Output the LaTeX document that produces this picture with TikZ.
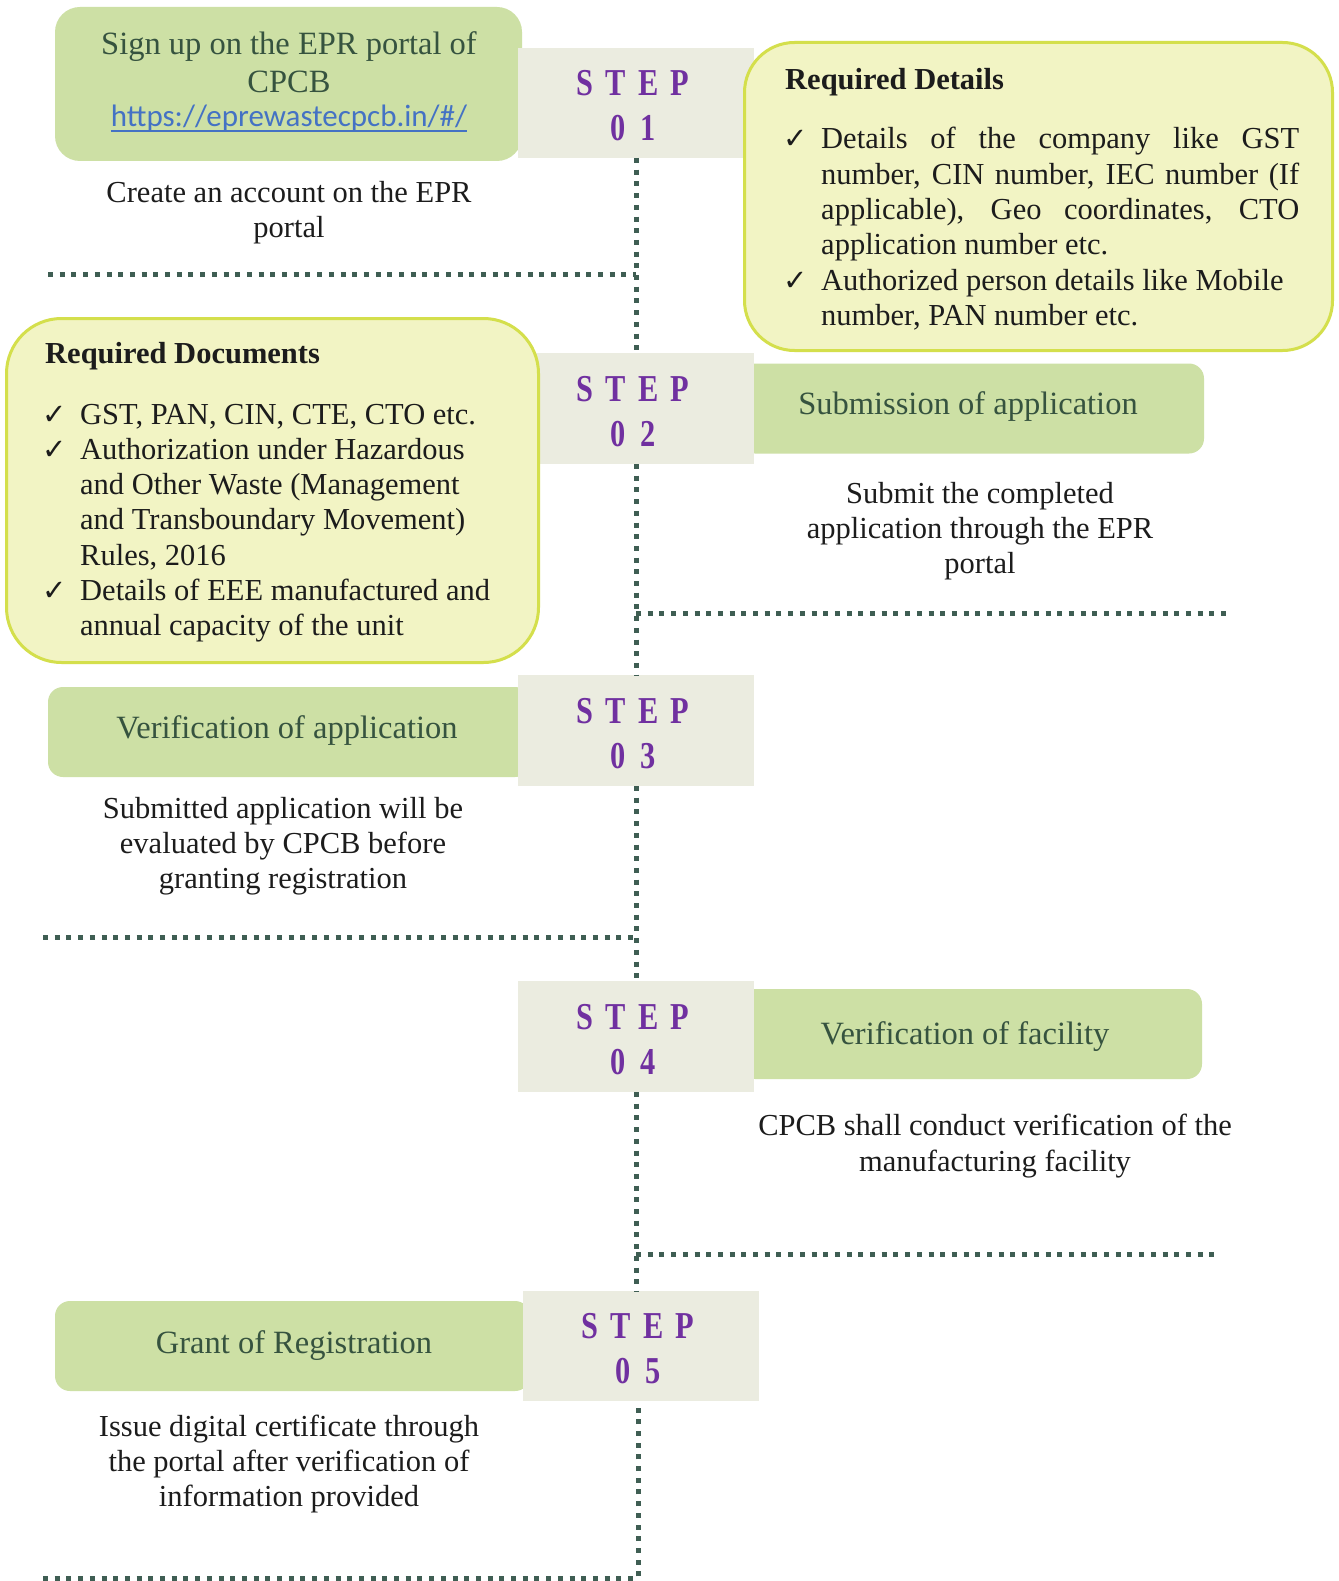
\documentclass[tikz,border=0pt]{standalone}
\usepackage{graphicx}
\usepackage{fontspec}
\setmainfont{Liberation Serif}
\newfontfamily\urlfont{Carlito}
\newfontfamily\symfont{DejaVu Sans}
\usetikzlibrary{calc}
\definecolor{stepgray}{HTML}{EBECE0}
\definecolor{boxgreen}{HTML}{CDE0A5}
\definecolor{notefill}{HTML}{F2F4C4}
\definecolor{noteborder}{HTML}{D4DF4C}
\definecolor{dotcol}{HTML}{3F5E53}
\definecolor{headcol}{HTML}{36533F}
\definecolor{stepcol}{HTML}{7030A0}
\definecolor{urlcol}{HTML}{4472C4}
\definecolor{bodycol}{HTML}{1C1C1C}
\newcommand\chk{\leavevmode\llap{{\symfont\fontsize{29}{29}\selectfont ✓}\hspace{13pt}}}
\newcommand\steplabel[2]{\scalebox{0.8}[1]{\begin{tabular}{@{}c@{}}S\hspace{15pt}T\hspace{15pt}E\hspace{15pt}P\\#1\hspace{18pt}#2\end{tabular}}}
\begin{document}
\begin{tikzpicture}[x=1pt,y=-1pt,
 stepbox/.style={fill=stepgray, draw=none, minimum width=236pt, minimum height=110pt, inner sep=0pt, outer sep=0pt},
 greenbox/.style={fill=boxgreen, draw=none, rounded corners=15pt, minimum height=90pt, inner sep=0pt, outer sep=0pt},
 notebox/.style={fill=notefill, draw=noteborder, line width=3pt, rounded corners=50pt, inner sep=0pt, outer sep=0pt},
 steptext/.style={text=stepcol, font=\fontsize{38}{45}\selectfont\bfseries, inner sep=0pt},
 headtext/.style={text=headcol, font=\fontsize{32.5}{38}\selectfont, inner sep=0pt, align=center},
 bodytext/.style={text=bodycol, font=\fontsize{30.5}{35.3}\selectfont, inner sep=0pt, align=center},
 titletext/.style={text=bodycol, font=\fontsize{30.5}{35.3}\selectfont\bfseries, inner sep=0pt, anchor=base west},
 listtext/.style={text=bodycol, inner sep=0pt, anchor=base west},
 dotline/.style={dotcol, line width=5pt, dash pattern=on 5pt off 6.7pt}]
\useasboundingbox (0,0) rectangle (1338,1581);
\fill[white] (0,0) rectangle (1338,1581);

% green title boxes
\node[greenbox, rounded corners=25pt, minimum width=467pt, minimum height=154pt] (g1) at (288.5,84) {};
\node[greenbox, minimum width=464pt] (g2) at (972,408.5) {};
\node[greenbox, minimum width=482pt] (g3) at (289,732) {};
\node[greenbox, minimum width=462pt] (g4) at (971,1034) {};
\node[greenbox, minimum width=475pt] (g5) at (292.5,1346) {};

% step boxes
\node[stepbox] (s1) at (636,103) {};
\node[stepbox, minimum height=111pt] (s2) at (636,408.5) {};
\node[stepbox, minimum height=111pt] (s3) at (636,730.5) {};
\node[stepbox, minimum height=111pt] (s4) at (636,1036.5) {};
\node[stepbox] (s5) at (641,1346) {};

\node[steptext] (n1) at ($(s1.center)+(-3,6)$) {\steplabel{0}{1}};
\node[steptext] (n2) at ($(s2.center)+(-3,6)$) {\steplabel{0}{2}};
\node[steptext] (n3) at ($(s3.center)+(-3,6)$) {\steplabel{0}{3}};
\node[steptext] (n4) at ($(s4.center)+(-3,6)$) {\steplabel{0}{4}};
\node[steptext] (n5) at ($(s5.center)+(-3,6)$) {\steplabel{0}{5}};

% note boxes
\node[notebox, minimum width=588pt, minimum height=308pt] (y1) at (1038.5,196.5) {};
\node[notebox, rounded corners=55pt, minimum width=532pt, minimum height=344pt] (y2) at (272.5,490.5) {};

% dotted connectors
\draw[dotline] (s1.south) -- (s2.north);
\draw[dotline] (s2.south) -- (s3.north);
\draw[dotline] (s3.south) -- (s4.north);
\draw[dotline] (s4.south) -- (s4.south |- s5.north);
\coordinate (h1a) at (48,274);
\draw[dotline] (h1a) -- (h1a -| s1.south);
\coordinate (h2b) at (1228,613);
\draw[dotline] (h2b -| s2.south) -- (h2b);
\coordinate (h3a) at (43,937);
\draw[dotline] (h3a) -- (h3a -| s3.south);
\coordinate (h4b) at (1218,1254);
\draw[dotline] (h4b -| s4.south) -- (h4b);
\coordinate (h5a) at (43,1578);
\coordinate (h5b) at (638,1578);
\draw[dotline] (h5a) -- (h5b) -- (h5b |- s5.south);

% texts
\node[headtext] (t1) at (289,62) {Sign up on the EPR portal of\\CPCB};
\node[inner sep=0pt, text=urlcol, font=\urlfont\fontsize{31}{31}\selectfont] (url) at (289,118) {https://eprewastecpcb.in/\#/};
\draw[urlcol, line width=1.8pt] ($(url.base west)+(0,5)$) -- ($(url.base east)+(0,5)$);
\node[bodytext] (c1) at (289,213) {Create an account on the EPR\\portal};

\node[titletext] (rdt) at (785,90) {Required Details};
\node[listtext] (rdl) at (821,149) {\parbox[t]{478pt}{\fontsize{30.5}{35.3}\selectfont
\chk\makebox[478pt][s]{Details of the company like GST}\\
\makebox[478pt][s]{number, CIN number, IEC number (If}\\
\makebox[478pt][s]{applicable), Geo coordinates, CTO}\\
application number etc.\\
\chk Authorized person details like Mobile\\
number, PAN number etc.}};

\node[titletext] (rdd) at (45,363) {Required Documents};
\node[listtext] (rdl2) at (80,424) {\parbox[t]{480pt}{\fontsize{30.5}{35.3}\selectfont
\chk GST, PAN, CIN, CTE, CTO etc.\\
\chk Authorization under Hazardous\\
and Other Waste (Management\\
and Transboundary Movement)\\
Rules, 2016\\
\chk Details of EEE manufactured and\\
annual capacity of the unit}};

\node[headtext] (h2) at (968,407) {Submission of application};
\node[bodytext] (c2) at (980,531) {Submit the completed\\application through the EPR\\portal};

\node[headtext] (h3) at (287,731) {Verification of application};
\node[bodytext] (c3) at (283,846) {Submitted application will be\\evaluated by CPCB before\\granting registration};

\node[headtext] (h4) at (965,1037) {Verification of facility};
\node[bodytext] (c4) at (995,1146) {CPCB shall conduct verification of the\\manufacturing facility};

\node[headtext] (h5) at (294,1346) {Grant of Registration};
\node[bodytext] (c5) at (289,1464) {Issue digital certificate through\\the portal after verification of\\information provided};
\end{tikzpicture}
\end{document}
